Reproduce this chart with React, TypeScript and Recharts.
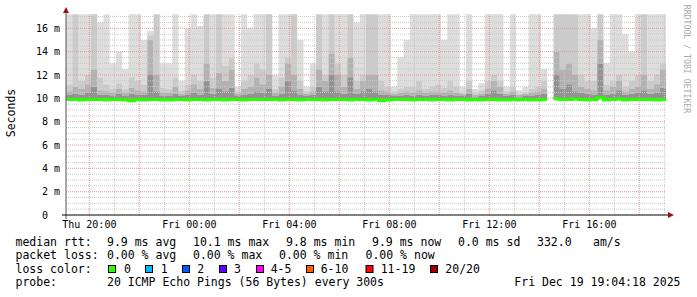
import { ComposedChart, Area, Line, XAxis, YAxis, ReferenceLine } from "recharts";

// 96 bins of 15 minutes, first bin starts Thu 19:04 (x value = minutes since start)
const medianRtt = [
  9.9, 9.9, 9.85, 9.9, 9.9, 9.9, 9.85, 9.9, 9.9, 9.85, 9.8, 9.9, 9.85, 9.9, 9.9, 9.85,
  9.85, 9.9, 9.9, 9.85, 9.9, 9.9, 9.85, 9.9, 9.9, 9.85, 9.9, 9.9, 9.85, 9.9, 9.9, 9.9,
  9.9, 9.9, 9.85, 9.9, 9.9, 9.85, 9.9, 9.9, 9.9, 9.85, 9.9, 9.9, 9.9, 9.85, 9.9, 9.9,
  9.85, 9.9, 9.8, 9.85, 9.9, 9.9, 9.9, 9.85, 9.9, 9.9, 9.85, 9.9, 9.9, 9.85, 9.9, 9.9,
  9.85, 9.9, 9.85, 9.9, 9.9, 9.85, 9.85, 9.9, 9.85, 9.9, 9.85, 9.85, 9.9, null, 9.95, 9.9,
  9.9, 9.95, 9.9, 9.85, 9.9, 10.05, 9.85, 9.9, 9.95, 9.85, 9.9, 9.9, 9.9, 9.9, 9.85, 9.9,
];

// top of the darkest smoke band
const darkTop = [
  10.3, 10.4, 10.3, 10.5, 11, 10.3, 10.3, 10.2, 10.4, 10.2, 10.4, 10.3, 10.3, 12, 10.6, 10.2,
  10.2, 10.4, 10.2, 10.3, 10.5, 10.3, 11.5, 10.4, 10.8, 10.6, 10.9, 10.2, 10.3, 10.4, 10.6, 10.5,
  10.8, 10.2, 10.4, 11.5, 10.7, 10.3, 10.2, 10.3, 11, 10.6, 12, 10.6, 10.4, 11.8, 10.4, 10.6,
  10.8, 10.6, 10.3, 10.3, 10.2, 10.2, 10.3, 10.2, 10.3, 10.2, 10.3, 10.3, 10.2, 10.3, 10.2, 10.2,
  10.4, 10.1, 10.2, 10.4, 10.7, 10.4, 10.2, 10.3, 10.1, 10.2, 10.2, 10.3, 10.4, null, 12, 10.8,
  11.2, 10.6, 10.5, 10.4, 10.3, 13, 10.3, 10.4, 10.7, 10.3, 10.4, 10.5, 10.7, 10.4, 10.5, 10.9,
];

// top of the second band
const lowTop = [
  10.6, 11, 10.8, 11.2, 12.5, 10.7, 10.6, 10.5, 10.8, 10.5, 10.9, 10.7, 10.6, 15, 12, 10.5,
  10.5, 11, 10.4, 10.7, 11.2, 10.8, 13, 10.9, 12.2, 11.5, 12.5, 10.4, 10.8, 11, 11.8, 11.2,
  12, 10.5, 11, 13, 12, 10.8, 10.4, 10.6, 12.5, 11.5, 13.8, 12, 11, 13.5, 10.8, 11.5,
  12, 12, 10.7, 10.6, 10.4, 10.5, 10.6, 10.5, 10.7, 10.5, 10.6, 10.6, 10.5, 10.7, 10.5, 10.4,
  10.8, 10.3, 10.4, 10.8, 11.5, 11, 10.4, 10.6, 10.3, 10.4, 10.5, 10.6, 10.8, null, 14, 12.5,
  13, 12, 11, 10.8, 10.7, 15, 10.7, 11, 11.5, 10.6, 10.8, 11, 12, 10.8, 11.2, 12.5,
];

// top of the medium gray band (20 = above the top of the graph)
const midTop = [
  11.2, 20, 11.5, 12, 20, 11.8, 11.2, 10.8, 11.3, 10.8, 11.8, 11.5, 11.2, 15.4, 20, 10.9,
  10.8, 11.8, 10.7, 11.2, 12, 11.5, 20, 11.8, 20, 12.8, 13.5, 10.6, 11.5, 12, 13, 12.5,
  20, 10.8, 11.8, 13.5, 20, 11.5, 10.6, 11, 20, 12, 20, 13, 12, 20, 11.5, 12,
  20, 20, 11.5, 11, 10.6, 10.8, 11, 11, 11.5, 10.8, 11, 11.2, 10.9, 11.5, 11, 10.5,
  11.5, 10.5, 10.7, 11.5, 12, 11.5, 10.6, 11, 10.4, 10.5, 10.8, 11, 11.5, null, 20, 20,
  20, 20, 12, 11.5, 11.5, 20, 11.2, 11.5, 12, 11, 11.5, 12, 20, 11.5, 12, 13,
];

// max ping
const maxRtt = [
  20, 20, 20, 20, 20, 16.5, 20, 13, 14, 12.5, 20, 20, 15, 15.8, 20, 13,
  13, 20, 11.5, 16, 20, 16.2, 20, 20, 20, 20, 20, 11, 20, 16, 20, 20,
  20, 12, 20, 20, 20, 15, 11, 13, 20, 20, 20, 20, 20, 20, 16.5, 20,
  20, 20, 20, 20, 11, 13.5, 15, 20, 20, 20, 20, 20, 15, 20, 20, 11,
  20, 10.8, 11.3, 20, 20, 20, 11, 20, 10.7, 11, 20, 20, 12.5, null, 20, 20,
  20, 20, 20, 20, 16, 20, 13, 20, 20, 15.5, 14, 20, 20, 20, 20, 20,
];

const timeTicks = [56, 296, 536, 776, 1016, 1256];
const timeLabels = ["Thu 20:00", "Fri 00:00", "Fri 04:00", "Fri 08:00", "Fri 12:00", "Fri 16:00"];
const yTicks = [0, 2, 4, 6, 8, 10, 12, 14, 16];

const lossColors = ["#26ff00", "#00b8ff", "#0059ff", "#5e00ff", "#ff00ff", "#ff5e00", "#ff0000", "#a10000"];
const lossLabels = ["0", "1", "2", "3", "4-5", "6-10", "11-19", "20/20"];

const MONO = "'DejaVu Sans Mono', monospace";

// each smoke band is a [bottom, top] range; a missing bin closes the step before it and breaks the path
const rows: any[] = [];
medianRtt.forEach((m, i) => {
  const t = i * 15;
  if (m === null) {
    rows.push({ ...rows[rows.length - 1], t });
    rows.push({ t, med: null, b1: null, b2: null, b3: null, b4: null });
    return;
  }
  rows.push({
    t,
    med: m,
    b1: [m, darkTop[i]],
    b2: [darkTop[i], lowTop[i]],
    b3: [lowTop[i], midTop[i]],
    b4: [midTop[i], maxRtt[i]],
  });
});
rows.push({ ...rows[rows.length - 1], t: 1440 });

const hourLines = Array.from({ length: 24 }, (_, i) => 56 + i * 60);
const halfLines = Array.from({ length: 34 }, (_, i) => (i + 1) * 0.5);

const legendRows = [
  { y: 245.7, parts: [[15.5, "median rtt:"], [107, "9.9 ms avg"], [193, "10.1 ms max"], [286, "9.8 ms min"], [372, "9.9 ms now"], [458, "0.0 ms sd"], [537, "332.0"], [593, "am/s"]] },
  { y: 259.2, parts: [[15.5, "packet loss:"], [107, "0.00 % avg"], [193, "0.00 % max"], [279, "0.00 % min"], [365.5, "0.00 % now"]] },
  { y: 272.7, parts: [[15.5, "loss color:"]] },
  { y: 286.2, parts: [[15.5, "probe:"], [107, "20 ICMP Echo Pings (56 Bytes) every 300s"]] },
];
const squareX = [108.5, 145.5, 182.5, 219.5, 256.5, 306.5, 366, 430.5];
const squareLabelX = [124, 160.7, 197.3, 234, 270.7, 320.7, 380.7, 445.3];

export default function App() {
  return (
    <div style={{ position: "absolute", left: 0, top: 0, width: 697, height: 297, background: "#fff" }}>
      <ComposedChart width={697} height={297} data={rows} margin={{ top: 14.3, right: 31, bottom: 62, left: 6 }}>
        <XAxis
          dataKey="t"
          type="number"
          domain={[0, 1440]}
          ticks={timeTicks}
          interval={0}
          tickFormatter={(v: number) => timeLabels[timeTicks.indexOf(v)]}
          axisLine={false}
          tickLine={false}
          tickSize={4}
          tickMargin={2}
          height={20}
          tick={{ fontFamily: MONO, fontSize: 10, fill: "#000" }}
        />
        <YAxis
          type="number"
          domain={[0, 17.2]}
          allowDataOverflow
          ticks={yTicks}
          interval={0}
          tickFormatter={(v: number) => (v === 0 ? "0\u00a0\u00a0" : `${v} m`)}
          axisLine={false}
          tickLine={false}
          tickSize={4}
          tickMargin={2}
          width={60}
          tick={{ fontFamily: MONO, fontSize: 10, fill: "#000" }}
        />
        <Area dataKey="b4" type="stepAfter" fill="#dddddd" fillOpacity={1} stroke="none" isAnimationActive={false} />
        <Area dataKey="b3" type="stepAfter" fill="#cbcbcb" fillOpacity={1} stroke="none" isAnimationActive={false} />
        <Area dataKey="b2" type="stepAfter" fill="#b2b2b2" fillOpacity={1} stroke="none" isAnimationActive={false} />
        <Area dataKey="b1" type="stepAfter" fill="#929292" fillOpacity={1} stroke="none" isAnimationActive={false} />
        {halfLines.filter((v) => v % 2 !== 0).map((v) => (
          <ReferenceLine key={`h${v}`} y={v} stroke="#c8c8c8" strokeDasharray="1 1" />
        ))}
        {hourLines.filter((_, i) => i % 2 === 1).map((v) => (
          <ReferenceLine key={`v${v}`} x={v} stroke="#c8c8c8" strokeDasharray="1 1" />
        ))}
        {yTicks.filter((v) => v > 0).map((v) => (
          <ReferenceLine key={`H${v}`} y={v} stroke="#e29a9a" strokeDasharray="1 1" />
        ))}
        {hourLines.filter((_, i) => i % 2 === 0).map((v) => (
          <ReferenceLine key={`V${v}`} x={v} stroke="#e29a9a" strokeDasharray="1 1" />
        ))}
        <Line dataKey="med" type="stepAfter" stroke="#26ff00" strokeWidth={3} dot={false} isAnimationActive={false} />
      </ComposedChart>
      <svg width={697} height={297} style={{ position: "absolute", left: 0, top: 0, pointerEvents: "none" }}>
        <line x1={66} y1={12} x2={66} y2={219} stroke="#555" strokeWidth={1} />
        <line x1={62} y1={215} x2={669} y2={215} stroke="#000" strokeWidth={1} />
        <polygon points="66,7 63,13 69,13" fill="#a01010" />
        <polygon points="674,215 668,212 668,218" fill="#a01010" />
        <text
          x={11}
          y={113}
          transform="rotate(-90 11 113)"
          textAnchor="middle"
          dominantBaseline="central"
          fontFamily={MONO}
          fontSize={11.5}
          fill="#000"
        >
          Seconds
        </text>
        <text
          x={687}
          y={59}
          transform="rotate(90 687 59)"
          textAnchor="middle"
          dominantBaseline="central"
          fontFamily={MONO}
          fontSize={8.2}
          fill="#aaa"
        >
          RRDTOOL / TOBI OETIKER
        </text>
        {legendRows.map((r) =>
          r.parts.map(([x, s]) => (
            <text key={`${r.y}-${x}`} x={x as number} y={r.y} fontFamily={MONO} fontSize={11.5} fill="#000">
              {s}
            </text>
          ))
        )}
        {lossColors.map((c, i) => (
          <g key={c}>
            <rect x={squareX[i]} y={265.5} width={7} height={7} fill={c} stroke="#000" strokeWidth={1} />
            <text x={squareLabelX[i]} y={272.7} fontFamily={MONO} fontSize={11.5} fill="#000">
              {lossLabels[i]}
            </text>
          </g>
        ))}
        <text x={680.5} y={286.2} textAnchor="end" fontFamily={MONO} fontSize={11.5} fill="#000">
          Fri Dec 19 19:04:18 2025
        </text>
      </svg>
    </div>
  );
}
